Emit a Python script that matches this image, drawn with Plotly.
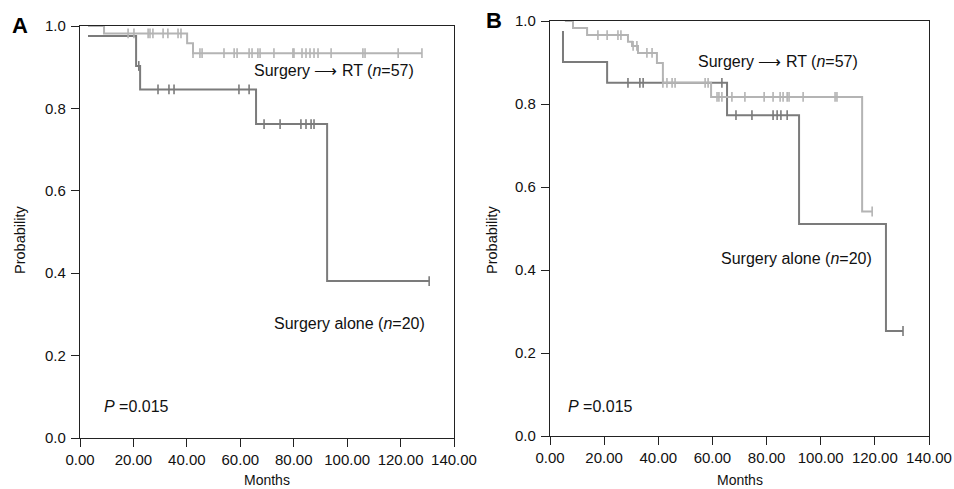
import plotly.graph_objects as go

# ---------------- data ----------------
# Panel A
a_rt_times = [3.0, 9.0, 40.1, 42.3, 128.0]
a_rt_surv = [1.0, 0.982, 0.958, 0.934, 0.934]
a_rt_censor = [18.0, 20.2, 25.5, 26.2, 27.3, 31.1, 32.9, 36.7, 37.8,
               42.3, 44.9, 45.7, 53.9, 57.7, 58.8, 63.3, 64.4, 66.6, 67.4,
               72.6, 79.7, 80.1, 83.1, 84.6, 86.1, 87.6, 89.1, 94.0,
               105.9, 106.7, 119.1, 128.0]

a_al_times = [3.0, 21.0, 22.5, 65.9, 92.5, 130.7]
a_al_surv = [0.976, 0.903, 0.846, 0.762, 0.381, 0.381]
a_al_censor = [22.0, 29.2, 33.3, 35.2, 59.5, 63.3,
               68.9, 74.9, 82.7, 84.6, 86.5, 87.6, 130.7]

# Panel B
b_rt_times = [5.5, 8.5, 13.7, 28.8, 30.3, 32.5, 39.5, 41.7, 59.5, 115.3, 119.0]
b_rt_surv = [1.0, 0.983, 0.966, 0.950, 0.940, 0.923, 0.899, 0.851, 0.817, 0.541, 0.541]
b_rt_censor = [17.7, 21.1, 25.1, 26.2, 30.7, 32.1, 35.8, 37.7,
               41.7, 43.2, 45.1, 46.2, 57.3, 58.4,
               61.7, 62.4, 63.5, 67.2, 72.0, 79.1, 82.4, 85.0, 86.1, 87.6, 88.3,
               93.5, 105.3, 106.0, 119.0]

b_al_times = [4.8, 4.8, 21.1, 65.4, 92.0, 124.1, 130.4]
b_al_surv = [0.976, 0.901, 0.851, 0.773, 0.511, 0.253, 0.253]
b_al_censor = [28.8, 33.2, 34.4, 63.5, 68.7, 74.6, 82.4, 83.9, 85.3, 87.6, 130.4]

x_ticks = [0, 20, 40, 60, 80, 100, 120, 140]
y_ticks = [0.0, 0.2, 0.4, 0.6, 0.8, 1.0]

LIGHT = "#b4b4b4"
DARK = "#7b7b7b"
AXIS = "#222222"
FONT = "Liberation Sans, Arial, sans-serif"


def surv_at(t, times, surv):
    val = surv[0]
    for tt, ss in zip(times, surv):
        if tt <= t:
            val = ss
    return val


fig = go.Figure()

panels = [
    ("x", "y", a_rt_times, a_rt_surv, a_rt_censor, a_al_times, a_al_surv, a_al_censor),
    ("x2", "y2", b_rt_times, b_rt_surv, b_rt_censor, b_al_times, b_al_surv, b_al_censor),
]

for xa, ya, rt_t, rt_s, rt_c, al_t, al_s, al_c in panels:
    for t, s, c, col in [(al_t, al_s, al_c, DARK), (rt_t, rt_s, rt_c, LIGHT)]:
        fig.add_trace(go.Scatter(x=t, y=s, mode="lines", line=dict(shape="hv", color=col, width=2),
                                 xaxis=xa, yaxis=ya, showlegend=False, hoverinfo="skip"))
        fig.add_trace(go.Scatter(x=c, y=[surv_at(v, t, s) for v in c], mode="markers",
                                 marker=dict(symbol="line-ns", size=7, line=dict(color=col, width=1.6)),
                                 xaxis=xa, yaxis=ya, showlegend=False, hoverinfo="skip"))

W, H = 954, 489


def px(x):
    return x / W


def py(y):
    return 1 - y / H


common_x = dict(range=[0, 140], tickvals=x_ticks, ticktext=[f"{v:.2f}" for v in x_ticks],
                showline=True, linecolor=AXIS, linewidth=1.2, mirror=True,
                ticks="outside", ticklen=8, tickcolor=AXIS, tickwidth=1,
                showgrid=False, zeroline=False, automargin=False,
                tickfont=dict(family=FONT, size=15, color="#111"))
common_y = dict(range=[0, 1], tickvals=y_ticks, ticktext=[f"{v:.1f}" for v in y_ticks],
                showline=True, linecolor=AXIS, linewidth=1.2, mirror=True,
                ticks="outside", ticklen=8, tickcolor=AXIS, tickwidth=1,
                showgrid=False, zeroline=False, automargin=False, ticklabelstandoff=2,
                tickfont=dict(family=FONT, size=15, color="#111"))

fig.update_layout(
    width=W, height=H,
    margin=dict(l=0, r=0, t=0, b=0),
    paper_bgcolor="white", plot_bgcolor="white",
    xaxis=dict(domain=[px(80), px(454)], anchor="y", **common_x),
    yaxis=dict(domain=[py(438), py(26)], anchor="x", **common_y),
    xaxis2=dict(domain=[px(550), px(929)], anchor="y2", **common_x),
    yaxis2=dict(domain=[py(436), py(21)], anchor="x2", **common_y),
)

ARROW = "\u27f6"
ann_font = dict(family=FONT, size=16, color="#111")
anns = [
    # panel letters
    dict(x=px(10), y=py(26), text="<b>A</b>", font=dict(family=FONT, size=22, color="#000"), xanchor="left"),
    dict(x=px(484), y=py(20), text="<b>B</b>", font=dict(family=FONT, size=22, color="#000"), xanchor="left"),
    # curve labels A
    dict(x=px(334), y=py(71), text=f"Surgery {ARROW} RT (<i>n</i>=57)", font=ann_font),
    dict(x=px(349), y=py(323), text="Surgery alone (<i>n</i>=20)", font=ann_font),
    dict(x=px(102), y=py(406), text="<i>P</i> =0.015", font=ann_font, xanchor="left"),
    # curve labels B
    dict(x=px(778), y=py(62), text=f"Surgery {ARROW} RT (<i>n</i>=57)", font=ann_font),
    dict(x=px(796), y=py(258), text="Surgery alone (<i>n</i>=20)", font=ann_font),
    dict(x=px(566), y=py(406), text="<i>P</i> =0.015", font=ann_font, xanchor="left"),
    # axis titles
    dict(x=px(20), y=py(240), text="Probability", textangle=-90, font=dict(family=FONT, size=14.5, color="#111")),
    dict(x=px(492), y=py(240), text="Probability", textangle=-90, font=dict(family=FONT, size=14.5, color="#111")),
    dict(x=px(267), y=py(480), text="Months", font=dict(family=FONT, size=14, color="#111")),
    dict(x=px(740), y=py(480), text="Months", font=dict(family=FONT, size=14, color="#111")),
]
for a in anns:
    a.setdefault("xanchor", "center")
    a.update(xref="paper", yref="paper", showarrow=False, yanchor="middle")
    fig.add_annotation(**a)

# remove the default 8px page margin so the figure fills the 954x489 window
fig.write_html("out.html", config={"displayModeBar": False},
               post_script="document.body.style.margin='0px';document.body.style.overflow='hidden';")
